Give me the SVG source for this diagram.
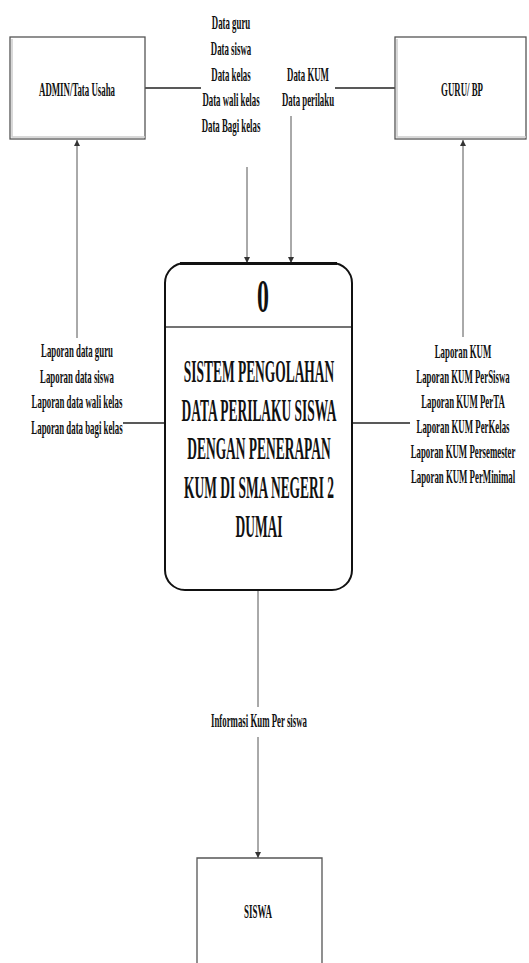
<svg xmlns="http://www.w3.org/2000/svg" width="529" height="963" viewBox="0 0 529 963">
<defs>
<marker id="arr" viewBox="0 0 10 10" refX="10" refY="5" markerWidth="10" markerHeight="6" markerUnits="userSpaceOnUse" orient="auto">
<path d="M0,0 L10,5 L0,10 Z" fill="#333"/>
</marker>
</defs>
<style>
.t{font-family:"Liberation Serif","Times New Roman",serif;font-weight:bold;fill:#111;text-anchor:middle}
.s{font-size:18px}
.e{font-size:19px}
.b{font-size:32px}
.ent{fill:#fff;stroke:#555;stroke-width:1.3}
.sh{fill:none;stroke:#ccc;stroke-width:1.5}
.ln{fill:none;stroke:#555;stroke-width:1}
.hl{fill:none;stroke:#222;stroke-width:1.6}
</style>
<rect width="529" height="963" fill="#fff"/>

<g id="connectors">
<path class="hl" d="M145,88 H201"/>
<path class="hl" d="M335,88 H395"/>
<path class="ln" d="M247,167 V263" marker-end="url(#arr)"/>
<path class="ln" d="M291,116 V263" marker-end="url(#arr)"/>
<path class="ln" d="M77,338 V140" marker-end="url(#arr)"/>
<path class="hl" d="M123,423 H165"/>
<path class="ln" d="M463,337 V140" marker-end="url(#arr)"/>
<path class="hl" d="M352,423 H410"/>
<path class="ln" d="M258,590 V707"/>
<path class="ln" d="M258,737 V858" marker-end="url(#arr)"/>
<g id="labels">
<text class="t s" transform="translate(231,29) scale(0.49,1)">Data guru</text>
<text class="t s" transform="translate(231,55) scale(0.49,1)">Data siswa</text>
<text class="t s" transform="translate(231,81) scale(0.49,1)">Data kelas</text>
<text class="t s" transform="translate(231,106) scale(0.49,1)">Data wali kelas</text>
<text class="t s" transform="translate(231,132) scale(0.49,1)">Data Bagi kelas</text>
<text class="t s" transform="translate(308,81) scale(0.49,1)">Data KUM</text>
<text class="t s" transform="translate(308,106) scale(0.49,1)">Data perilaku</text>
<text class="t s" transform="translate(77,357) scale(0.49,1)">Laporan data guru</text>
<text class="t s" transform="translate(77,383) scale(0.49,1)">Laporan data siswa</text>
<text class="t s" transform="translate(77,408) scale(0.49,1)">Laporan data wali kelas</text>
<text class="t s" transform="translate(77,434) scale(0.49,1)">Laporan data bagi kelas</text>
<text class="t s" transform="translate(463,358) scale(0.49,1)">Laporan KUM</text>
<text class="t s" transform="translate(463,383) scale(0.49,1)">Laporan KUM PerSiswa</text>
<text class="t s" transform="translate(463,408) scale(0.49,1)">Laporan KUM PerTA</text>
<text class="t s" transform="translate(463,433) scale(0.49,1)">Laporan KUM PerKelas</text>
<text class="t s" transform="translate(463,458) scale(0.49,1)">Laporan KUM Persemester</text>
<text class="t s" transform="translate(463,483) scale(0.49,1)">Laporan KUM PerMinimal</text>
<text class="t s" transform="translate(259,727) scale(0.49,1)">Informasi Kum Per siswa</text>
</g>
</g>

<g id="admin">
<rect class="ent" x="10" y="37" width="135" height="102"/>
<path class="sh" d="M12,39 V137 H145"/>
<text class="t e" transform="translate(77,96) scale(0.465,1)">ADMIN/Tata Usaha</text>
</g>

<g id="guru">
<rect class="ent" x="395" y="37" width="131" height="102"/>
<path class="sh" d="M397,39 V137 H526"/>
<text class="t e" transform="translate(462,96) scale(0.465,1)">GURU/ BP</text>
</g>

<g id="process">
<rect x="165" y="263" width="187" height="327" rx="20" ry="20" fill="#fff" stroke="#111" stroke-width="2"/>
<path d="M180,263.5 H337" stroke="#111" stroke-width="3" fill="none"/>
<path d="M166,327 H351" stroke="#444" stroke-width="1.5" fill="none"/>
<text class="t" font-size="46" transform="translate(263,312) scale(0.52,1)">0</text>
<text class="t b" transform="translate(259,382) scale(0.42,1)">SISTEM PENGOLAHAN</text>
<text class="t b" transform="translate(259,421) scale(0.42,1)">DATA PERILAKU SISWA</text>
<text class="t b" transform="translate(259,459) scale(0.42,1)">DENGAN PENERAPAN</text>
<text class="t b" transform="translate(259,498) scale(0.42,1)">KUM DI SMA NEGERI 2</text>
<text class="t b" transform="translate(259,537) scale(0.42,1)">DUMAI</text>
</g>

<g id="siswa">
<path d="M197,963 V858 H322 V963" fill="#fff" stroke="#555" stroke-width="1.3"/>
<text class="t e" transform="translate(258,918) scale(0.47,1)">SISWA</text>
</g>
</svg>
